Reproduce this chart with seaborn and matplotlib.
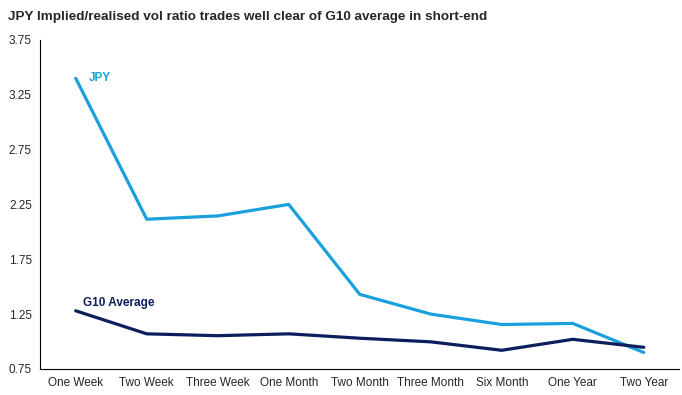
import matplotlib
matplotlib.use("Agg")
import matplotlib.pyplot as plt
import seaborn as sns
import pandas as pd

categories = ["One Week", "Two Week", "Three Week", "One Month", "Two Month",
              "Three Month", "Six Month", "One Year", "Two Year"]
jpy = [3.40, 2.115, 2.145, 2.25, 1.43, 1.25, 1.155, 1.165, 0.90]
g10 = [1.28, 1.07, 1.053, 1.07, 1.03, 0.997, 0.92, 1.02, 0.947]
series_names = ["JPY", "G10 Average"]
colors = {"JPY": "#1aa0dc", "G10 Average": "#0c1f5c"}
yticks = [0.75, 1.25, 1.75, 2.25, 2.75, 3.25, 3.75]

df = pd.DataFrame({
    "cat": categories * 2,
    "x": list(range(len(categories))) * 2,
    "value": jpy + g10,
    "series": [series_names[0]] * len(jpy) + [series_names[1]] * len(g10),
})

sns.set_style("white")
plt.rcParams["font.family"] = ["Liberation Sans", "DejaVu Sans"]

fig = plt.figure(figsize=(6.82, 3.95), dpi=100)
ax = fig.add_axes([0.059, 0.066, 0.937, 0.833])
sns.lineplot(data=df, x="x", y="value", hue="series", palette=colors,
             linewidth=2.3, ax=ax, legend=False, sort=False)

ax.set_xlim(-0.5, len(categories) - 0.5)
ax.set_ylim(0.75, 3.75)
ax.set_yticks(yticks)
ax.set_yticklabels([f"{t:.2f}" for t in yticks], fontsize=8.5)
ax.set_xticks(range(len(categories)))
ax.set_xticklabels(categories, fontsize=8.5)
ax.tick_params(axis="both", length=0, pad=6)
ax.set_xlabel("")
ax.set_ylabel("")
for s in ["top", "right"]:
    ax.spines[s].set_visible(False)
for s in ["left", "bottom"]:
    ax.spines[s].set_color("black")
    ax.spines[s].set_linewidth(0.8)

ax.text(0.18, jpy[0], "JPY", color=colors["JPY"], fontsize=8.5,
        fontweight="bold", va="center", ha="left")
ax.text(0.1, g10[0] + 0.07, "G10 Average", color=colors["G10 Average"],
        fontsize=8.5, fontweight="bold", va="center", ha="left")

fig.text(0.012, 0.957, "JPY Implied/realised vol ratio trades well clear of G10 average in short-end",
         fontsize=9.7, fontweight="bold", ha="left", va="center")

fig.savefig("out.png", dpi=100)
